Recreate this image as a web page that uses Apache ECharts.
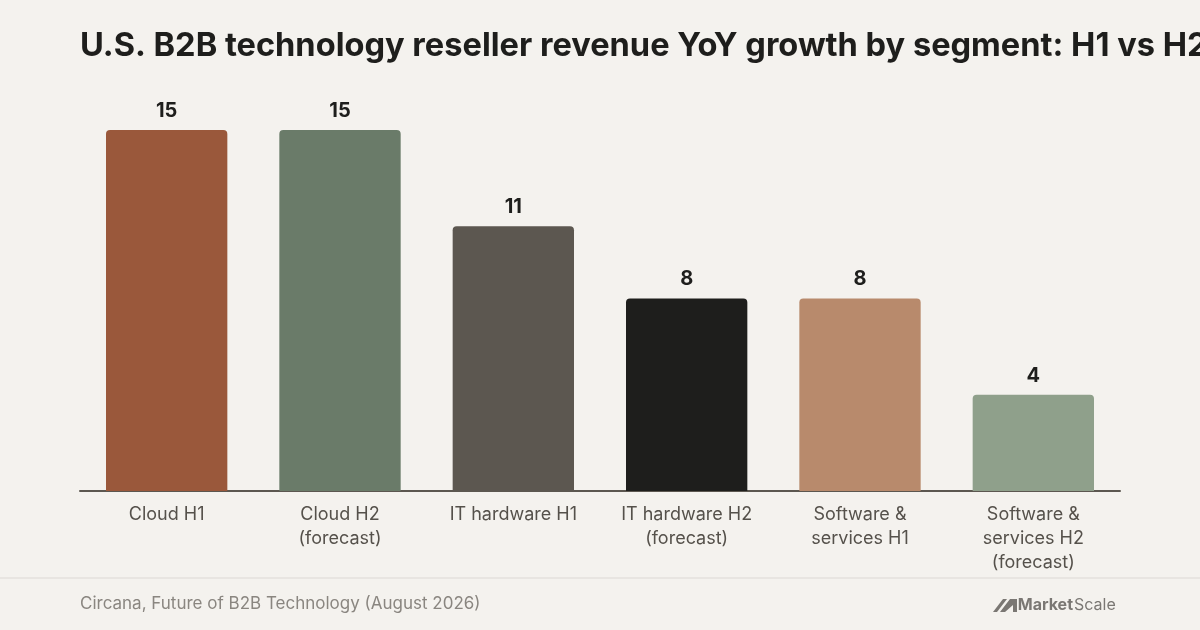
<!DOCTYPE html>
<html>
<head>
<meta charset="utf-8">
<script src="https://cdn.jsdelivr.net/npm/echarts@6/dist/echarts.min.js"></script>
<style>
  html, body { margin: 0; padding: 0; background: #f4f2ee; }
  #chart { width: 1200px; height: 630px; }
</style>
</head>
<body>
<div id="chart"></div>
<script>
const categories = [
  'Cloud H1',
  'Cloud H2\n(forecast)',
  'IT hardware H1',
  'IT hardware H2\n(forecast)',
  'Software &\nservices H1',
  'Software &\nservices H2\n(forecast)'
];
const growth = [15, 15, 11, 8, 8, 4];
const barColors = ['#9a583b', '#6a7b69', '#5c5750', '#1e1e1c', '#b88a6c', '#8fa08b'];

const chart = echarts.init(document.getElementById('chart'));

chart.setOption({
  backgroundColor: '#f4f2ee',
  textStyle: { fontFamily: 'Inter, "Noto Sans", sans-serif' },
  title: {
    text: 'U.S. B2B technology reseller revenue YoY growth by segment: H1 vs H2',
    left: 80,
    top: 30,
    padding: 0,
    textStyle: { fontSize: 32.6, fontWeight: 'bold', color: '#1e1e1c' }
  },
  grid: { left: 80, right: 80, top: 130, bottom: 139 },
  xAxis: {
    type: 'category',
    data: categories,
    axisLine: { lineStyle: { color: '#5c5750', width: 2 } },
    axisTick: { show: false },
    axisLabel: {
      color: '#55514b',
      fontSize: 18,
      lineHeight: 24,
      margin: 12,
      interval: 0
    }
  },
  yAxis: {
    type: 'value',
    min: 0,
    max: 15,
    show: false
  },
  series: [{
    type: 'bar',
    data: growth.map((v, i) => ({ value: v, itemStyle: { color: barColors[i] } })),
    barWidth: '70%',
    itemStyle: { borderRadius: [4, 4, 0, 0] },
    label: {
      show: true,
      position: 'top',
      distance: 9,
      color: '#1e1e1c',
      fontSize: 20,
      fontWeight: 'bold'
    }
  }],
  graphic: [
    {
      type: 'line',
      shape: { x1: 0, y1: 578, x2: 1200, y2: 578 },
      style: { stroke: '#e4e1dc', lineWidth: 1.5 }
    },
    {
      type: 'text',
      x: 80,
      y: 604,
      style: {
        text: 'Circana, Future of B2B Technology (August 2026)',
        fill: '#8a8680',
        fontSize: 17,
        fontFamily: 'Inter, sans-serif',
        textVerticalAlign: 'middle'
      }
    },
    {
      type: 'polygon',
      shape: { points: [[993, 612], [1003, 599], [1007, 599], [997, 612]] },
      style: { fill: '#7a7773' }
    },
    {
      type: 'polygon',
      shape: { points: [[1000, 612], [1010, 599], [1017, 599], [1017, 612], [1013, 612], [1013, 605], [1005, 612]] },
      style: { fill: '#7a7773' }
    },
    {
      type: 'text',
      x: 1073,
      y: 605,
      style: {
        text: 'Market',
        fill: '#7a7773',
        fontSize: 16,
        fontWeight: 'bold',
        fontFamily: 'Inter, sans-serif',
        textAlign: 'right',
        textVerticalAlign: 'middle'
      }
    },
    {
      type: 'text',
      x: 1074,
      y: 605,
      style: {
        text: 'Scale',
        fill: '#7a7773',
        fontSize: 16,
        fontFamily: 'Inter, sans-serif',
        textAlign: 'left',
        textVerticalAlign: 'middle'
      }
    }
  ]
});
</script>
</body>
</html>
